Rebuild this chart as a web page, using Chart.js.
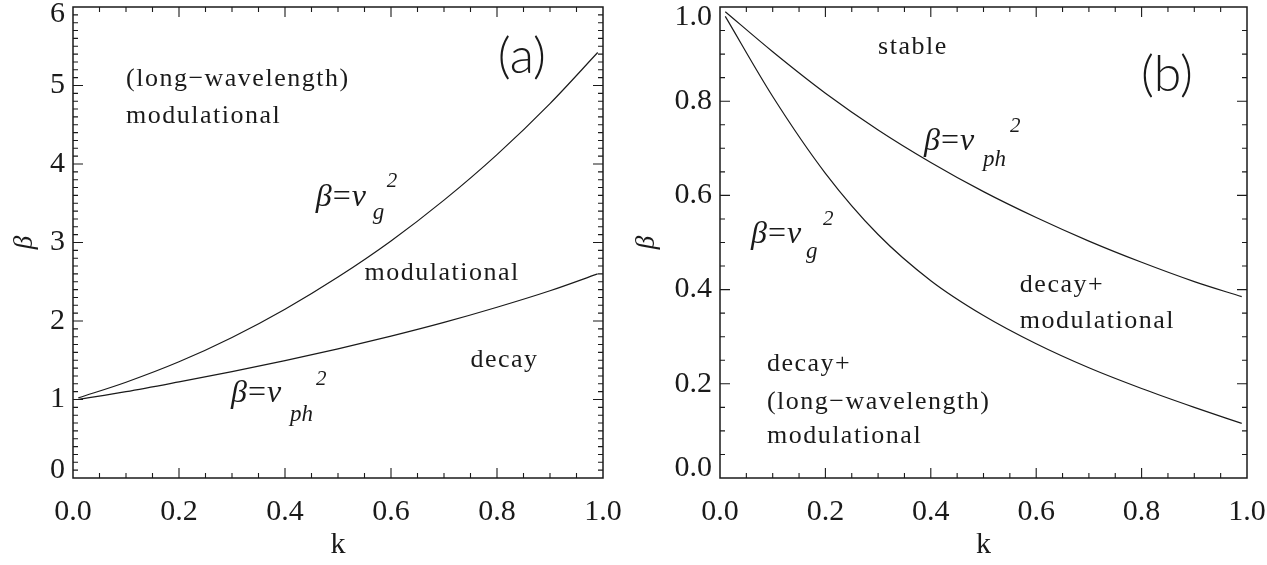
<!DOCTYPE html>
<html>
<head>
<meta charset="utf-8">
<title>beta vs k</title>
<script src="https://cdn.jsdelivr.net/npm/chart.js@4.4.1/dist/chart.umd.min.js"></script>
<style>
    html, body {
        margin: 0;
        padding: 0;
        background: #fff;
    }
    .panels {
        display: flex;
        width: 1267px;
        height: 565px;
    }
    canvas {
        display: block;
    }
</style>
</head>
<body>
<div class="panels">
    <canvas id="panelA" width="622" height="565"></canvas>
    <canvas id="panelB" width="645" height="565"></canvas>
</div>
<script>
// wavenumbers where both boundaries were sampled
const kValues = [0.01, 0.1, 0.2, 0.3, 0.4, 0.5, 0.6, 0.7, 0.8, 0.9, 0.99];

// panel (a): beta = vg^2 and beta = vph^2
const groupA = [1.02, 1.22, 1.48, 1.79, 2.15, 2.56, 3.02, 3.54, 4.12, 4.77, 5.42];
const phaseA = [1.00, 1.10, 1.225, 1.355, 1.495, 1.645, 1.807, 1.982, 2.175, 2.385, 2.60];

// panel (b)
const phaseB = [0.99, 0.905, 0.817, 0.739, 0.67, 0.608, 0.553, 0.503, 0.458, 0.417, 0.385];
const groupB = [0.98, 0.81, 0.647, 0.517, 0.419, 0.345, 0.285, 0.234, 0.19, 0.15, 0.116];

const kTicks = [0, 0.2, 0.4, 0.6, 0.8, 1.0];
const betaTicksA = [0, 1, 2, 3, 4, 5, 6];
const betaTicksB = [0, 0.2, 0.4, 0.6, 0.8, 1.0];

const SERIF = '"Liberation Serif", "DejaVu Serif", serif';
const INK = '#1a1a1a';

const toPoints = (ys) => kValues.map((k, i) => ({x: k, y: ys[i]}));

// box round the plot with inward ticks on all four sides
const frameTicks = {
    id: 'frameTicks',
    afterDatasetsDraw(chart, args, opts) {
        const {ctx, chartArea} = chart;
        const {left, right, top, bottom} = chartArea;
        const xs = chart.scales.x;
        const ys = chart.scales.y;

        ctx.save();
        ctx.strokeStyle = INK;
        ctx.lineWidth = 1.5;
        ctx.strokeRect(left, top, right - left, bottom - top);

        ctx.lineWidth = 1.1;
        ctx.beginPath();
        const walk = (scale, minor, major, fn) => {
            const n = Math.round((scale.max - scale.min) / minor);
            for (let i = 1; i < n; i++) {
                const v = scale.min + i * minor;
                const r = v / major;
                const len = Math.abs(r - Math.round(r)) < 1e-6 ? 10 : 5;
                fn(scale.getPixelForValue(v), len);
            }
        };
        walk(xs, opts.xMinor, opts.xMajor, (px, len) => {
            ctx.moveTo(px, bottom);
            ctx.lineTo(px, bottom - len);
            ctx.moveTo(px, top);
            ctx.lineTo(px, top + len);
        });
        walk(ys, opts.yMinor, opts.yMajor, (py, len) => {
            ctx.moveTo(left, py);
            ctx.lineTo(left + len, py);
            ctx.moveTo(right, py);
            ctx.lineTo(right - len, py);
        });
        ctx.stroke();
        ctx.restore();
    }
};

// region names, the beta = v^2 captions and the panel letter
const regionText = {
    id: 'regionText',
    afterDatasetsDraw(chart, args, opts) {
        const {ctx} = chart;
        const xs = chart.scales.x;
        const ys = chart.scales.y;
        ctx.save();
        ctx.fillStyle = INK;
        ctx.textBaseline = 'alphabetic';
        ctx.textAlign = 'left';

        ctx.font = '26px ' + SERIF;
        ctx.letterSpacing = '1.5px';
        opts.words.forEach(w => {
            ctx.fillText(w.text, xs.getPixelForValue(w.k), ys.getPixelForValue(w.beta));
        });

        ctx.letterSpacing = '0px';
        opts.formulas.forEach(f => {
            let x = xs.getPixelForValue(f.k);
            const y = ys.getPixelForValue(f.beta);
            [['italic 32px ', '\u03B2'], ['32px ', '='], ['italic 32px ', 'v']].forEach(([font, s]) => {
                ctx.font = font + SERIF;
                ctx.fillText(s, x, y);
                x += ctx.measureText(s).width + 1;
            });
            const x0 = xs.getPixelForValue(f.k);
            ctx.font = 'italic 23px ' + SERIF;
            ctx.fillText(f.sub, x0 + f.subAt[0], y + f.subAt[1]);
            ctx.font = 'italic 21px ' + SERIF;
            ctx.fillText('2', x0 + f.supAt[0], y + f.supAt[1]);
        });

        ctx.font = '300 50px Lato, "Open Sans", sans-serif';
        ctx.textAlign = 'center';
        ctx.textBaseline = 'middle';
        ctx.fillText(opts.tag.text, xs.getPixelForValue(opts.tag.k), ys.getPixelForValue(opts.tag.beta));
        ctx.restore();
    }
};

function makePanel(canvasId, cfg) {
    const ctx = document.getElementById(canvasId).getContext('2d');
    return new Chart(ctx, {
        type: 'line',
        data: {
            datasets: cfg.curves.map(ys => ({
                data: toPoints(ys),
                borderColor: INK,
                borderWidth: 1.2,
                pointRadius: 0,
                fill: false,
                cubicInterpolationMode: 'monotone'
            }))
        },
        options: {
            responsive: false,
            animation: false,
            events: [],
            layout: {
                padding: {left: 0, top: 7, right: cfg.padRight, bottom: 0}
            },
            scales: {
                x: {
                    type: 'linear',
                    min: 0,
                    max: 1,
                    grid: {display: false, drawTicks: false},
                    border: {display: false},
                    afterBuildTicks: (scale) => {
                        scale.ticks = kTicks.map(v => ({value: v}));
                    },
                    afterFit: (scale) => {
                        scale.height = 87;
                        scale.paddingLeft = 0;
                        scale.paddingRight = 0;
                    },
                    ticks: {
                        autoSkip: false,
                        maxRotation: 0,
                        padding: 19,
                        color: INK,
                        font: {family: SERIF, size: 30, lineHeight: '30px'},
                        callback: (v) => Number(v).toFixed(1)
                    },
                    title: {
                        display: true,
                        text: 'k',
                        color: INK,
                        font: {family: SERIF, size: 30, lineHeight: '30px'},
                        padding: {top: 0, bottom: 5}
                    }
                },
                y: {
                    type: 'linear',
                    min: cfg.yMin,
                    max: cfg.yMax,
                    grid: {display: false, drawTicks: false},
                    border: {display: false},
                    afterBuildTicks: (scale) => {
                        scale.ticks = cfg.yTicks.map(v => ({value: v}));
                    },
                    afterFit: (scale) => {
                        scale.width = cfg.axisWidth;
                        scale.paddingTop = 0;
                        scale.paddingBottom = 0;
                    },
                    ticks: {
                        autoSkip: false,
                        padding: 8,
                        color: INK,
                        font: {family: SERIF, size: 30, lineHeight: cfg.endShift},
                        // the end labels sit just inside the frame
                        callback: (v, i, ticks) => {
                            const s = cfg.fmt(v);
                            if (i === 0) return [s, ''];
                            if (i === ticks.length - 1) return ['', s];
                            return s;
                        }
                    },
                    title: {
                        display: true,
                        text: '\u03B2',
                        color: INK,
                        font: {family: SERIF, size: 27, style: 'italic', lineHeight: '27px'},
                        padding: {top: 11, bottom: 0}
                    }
                }
            },
            plugins: {
                legend: {display: false},
                tooltip: {enabled: false},
                frameTicks: cfg.ticks,
                regionText: cfg.text
            }
        },
        plugins: [frameTicks, regionText]
    });
}

makePanel('panelA', {
    curves: [groupA, phaseA],
    yMin: 0,
    yMax: 6,
    yTicks: betaTicksA,
    fmt: (v) => String(v),
    axisWidth: 73,
    padRight: 19,
    endShift: '15px',
    ticks: {xMinor: 0.05, xMajor: 0.2, yMinor: 0.1, yMajor: 1},
    text: {
        words: [
            {text: '(long\u2212wavelength)', k: 0.1, beta: 4.99},
            {text: 'modulational', k: 0.1, beta: 4.52},
            {text: 'modulational', k: 0.55, beta: 2.52},
            {text: 'decay', k: 0.75, beta: 1.41}
        ],
        formulas: [
            {k: 0.458, beta: 3.465, sub: 'g', subAt: [57, 13], supAt: [71, -19]},
            {k: 0.298, beta: 0.97, sub: 'ph', subAt: [59, 19], supAt: [85, -17]}
        ],
        tag: {text: '(a)', k: 0.847, beta: 5.36}
    }
});

makePanel('panelB', {
    curves: [phaseB, groupB],
    yMin: 0,
    yMax: 1,
    yTicks: betaTicksB,
    fmt: (v) => Number(v).toFixed(1),
    axisWidth: 98,
    padRight: 20,
    endShift: '20px',
    ticks: {xMinor: 0.05, xMajor: 0.2, yMinor: 0.05, yMajor: 0.2},
    text: {
        words: [
            {text: 'stable', k: 0.30, beta: 0.90},
            {text: 'decay+', k: 0.569, beta: 0.395},
            {text: 'modulational', k: 0.569, beta: 0.319},
            {text: 'decay+', k: 0.089, beta: 0.228},
            {text: '(long\u2212wavelength)', k: 0.089, beta: 0.147},
            {text: 'modulational', k: 0.089, beta: 0.075}
        ],
        formulas: [
            {k: 0.387, beta: 0.696, sub: 'ph', subAt: [59, 16], supAt: [86, -18]},
            {k: 0.059, beta: 0.499, sub: 'g', subAt: [55, 15], supAt: [72, -18]}
        ],
        tag: {text: '(b)', k: 0.848, beta: 0.855}
    }
});
</script>
</body>
</html>
